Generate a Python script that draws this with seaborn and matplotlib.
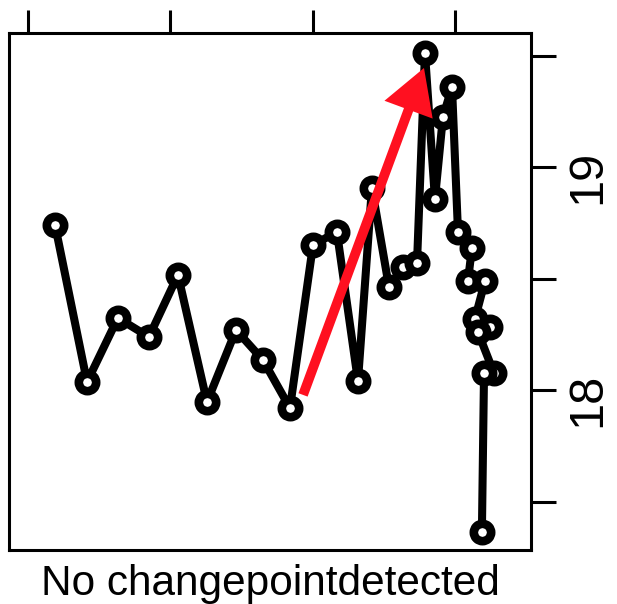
import numpy as np
import pandas as pd
import seaborn as sns
from matplotlib import pyplot as plt

# series
time_idx = [1.90, 4.15, 6.32, 8.50, 10.54, 12.58, 14.62, 16.51, 18.41, 20.03,
            21.71, 23.19, 24.17, 25.37, 26.35, 27.34, 27.90, 28.60, 29.16, 29.80,
            30.22, 31.20, 30.92, 32.12, 31.41, 32.47, 31.62, 32.75, 32.05, 31.90]
values = [18.74, 18.036, 18.323, 18.238, 18.516, 17.946, 18.269, 18.135, 17.919, 18.650,
          18.709, 18.040, 18.906, 18.462, 18.552, 18.570, 19.511, 18.857, 19.224, 19.359,
          18.709, 18.637, 18.489, 18.489, 18.318, 18.283, 18.260, 18.076, 18.076, 17.363]
x_ticks = [0, 10, 20, 30]
y_ticks = [17.5, 18, 18.5, 19, 19.5]
y_tick_labels = ['', '18', '', '19', '']
arrow_tail = (19.33, 17.978)
arrow_head = (27.83, 19.444)
caption = 'No changepointdetected'

df = pd.DataFrame({'t': time_idx, 'v': values})

sns.set_style('white')
plt.rcParams['font.family'] = ['Liberation Sans', 'DejaVu Sans']
plt.rcParams['text.color'] = 'black'
plt.rcParams['ytick.color'] = 'black'
plt.rcParams['xtick.color'] = 'black'

fig = plt.figure(figsize=(6.17, 6.04), dpi=100)
ax = fig.add_axes([0.01459, 0.0894, 0.846, 0.856])

sns.lineplot(data=df, x='t', y='v', sort=False, estimator=None, ax=ax,
             color='black', linewidth=5.8,
             marker='o', markersize=12.5, markerfacecolor='white',
             markeredgecolor='black', markeredgewidth=6.2)

ax.annotate('', xy=arrow_head, xytext=arrow_tail,
            arrowprops=dict(facecolor='#ff1020', edgecolor='none',
                            width=7, headwidth=37, headlength=32, shrink=0))

ax.set_xlim(-1.335, 35.35)
ax.set_ylim(17.2825, 19.601)
ax.set_xlabel('')
ax.set_ylabel('')

ax.set_xticks(x_ticks)
ax.set_yticks(y_ticks)
ax.set_yticklabels(y_tick_labels, rotation=90, fontsize=35)
ax.xaxis.tick_top()
ax.yaxis.tick_right()
ax.tick_params(axis='x', top=True, bottom=False, labeltop=False, labelbottom=False,
               direction='out', length=16.5, width=2.2, color='black')
ax.tick_params(axis='y', right=True, left=False, labelright=True, labelleft=False,
               direction='out', length=18, width=2.2, color='black', labelcolor='black', pad=7)
for s in ax.spines.values():
    s.set_linewidth(2.2)
    s.set_color('black')

fig.text(0.4376, 1 - 595 / 604, caption, ha='center', va='baseline', fontsize=30.5,
         color='black')

fig.savefig('out.png', dpi=100)
plt.close('all')
